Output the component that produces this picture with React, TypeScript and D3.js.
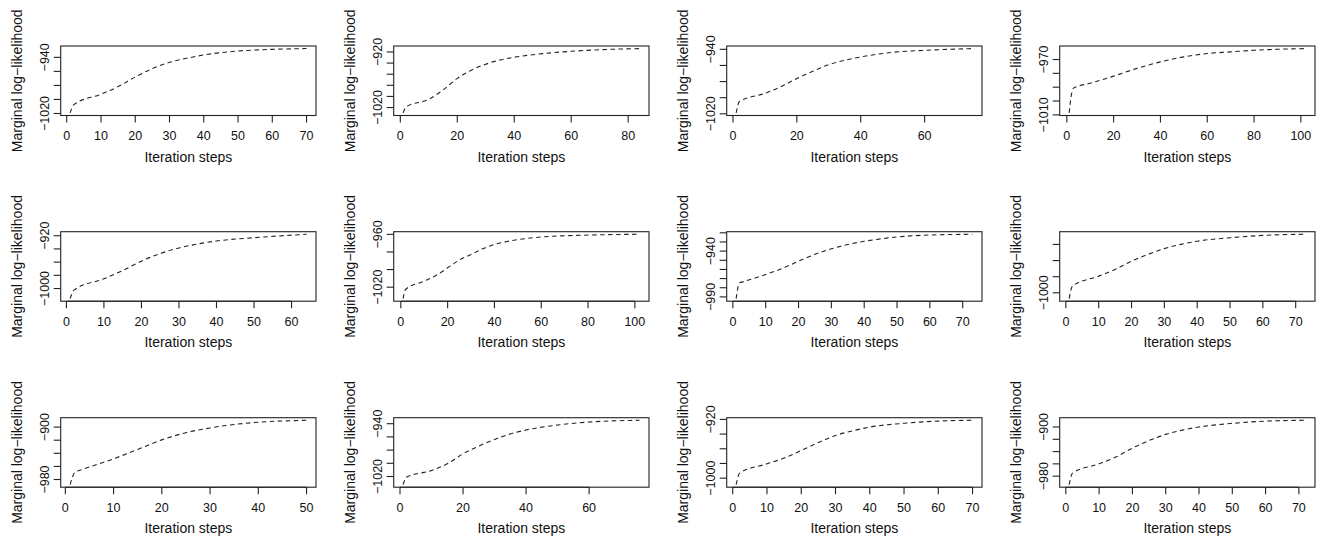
import { useEffect, useRef } from "react";
import * as d3 from "d3";

const iters1 = [1, 2, 10, 15, 20, 25, 30, 35, 40, 50, 60, 70];
const loglik1 = [-1019.2, -1007.7, -992.5, -981.7, -968, -956, -947.1, -941.4, -936.6, -931, -928.6, -927.5];
const iters2 = [1, 2, 10, 15, 20, 25, 30, 35, 40, 50, 60, 70, 84];
const loglik2 = [-1029.7, -1019, -1005.1, -988.5, -967.6, -952.7, -942, -934.5, -929.5, -923, -918.8, -916, -913.9];
const iters3 = [1, 2, 10, 15, 20, 25, 30, 35, 40, 50, 60, 75];
const loglik3 = [-1018.9, -1004.8, -994.6, -986.4, -976.2, -967.2, -959, -953.6, -949.5, -943.8, -941.3, -939.1];
const iters4 = [1, 2, 3, 10, 20, 30, 40, 50, 60, 70, 80, 90, 102];
const loglik4 = [-1008.6, -995, -990.5, -987.2, -982, -976.4, -971.7, -968.1, -965.7, -964.5, -963.3, -962.6, -962.1];
const iters5 = [1, 2, 10, 15, 20, 25, 30, 35, 40, 50, 64];
const loglik5 = [-1015.3, -1002.5, -985.3, -972.7, -958.5, -947, -938.5, -932.5, -928, -923, -917.8];
const iters6 = [1, 2, 10, 15, 20, 25, 30, 35, 40, 45, 50, 60, 80, 102];
const loglik6 = [-1033, -1022.6, -1013.1, -1006.7, -998, -989.2, -982.8, -976.3, -971.4, -968.3, -966, -963, -960.8, -959.9];
const iters7 = [1, 2, 3, 10, 15, 20, 25, 30, 35, 40, 50, 60, 73];
const loglik7 = [-991.9, -974.7, -973.6, -965.5, -959, -951, -943.5, -937.5, -932.8, -929.3, -924.6, -922.4, -921.6];
const iters8 = [1, 2, 10, 15, 20, 25, 30, 35, 40, 50, 60, 73];
const loglik8 = [-1007.2, -991.7, -979.3, -971, -960.7, -952.4, -945.2, -939.9, -936, -931.7, -928.8, -927.4];
const iters9 = [1, 2, 3, 10, 15, 20, 25, 30, 35, 40, 50];
const loglik9 = [-987.8, -968.8, -966, -948.4, -934.1, -919.5, -908.5, -901.3, -896, -892.6, -889.6];
const iters10 = [1, 2, 10, 15, 20, 25, 30, 35, 40, 50, 60, 76];
const loglik10 = [-1032.3, -1021, -1010.9, -1000.8, -985.6, -973.9, -963.8, -955.5, -949.5, -942, -937.5, -934.8];
const iters11 = [1, 2, 10, 15, 20, 25, 30, 35, 40, 50, 60, 70];
const loglik11 = [-1008.8, -993.2, -980.5, -972.7, -962.3, -951.5, -942, -935.5, -930.5, -925.3, -922.3, -921.2];
const iters12 = [1, 2, 10, 15, 20, 25, 30, 35, 40, 50, 60, 72];
const loglik12 = [-993.8, -975.1, -959.9, -949, -934.3, -922, -912, -905, -900, -894, -890.4, -889];

// axis ticks
const xTicks50 = [0, 10, 20, 30, 40, 50];
const xTicks60by10 = [0, 10, 20, 30, 40, 50, 60];
const xTicks70 = [0, 10, 20, 30, 40, 50, 60, 70];
const xTicks60by20 = [0, 20, 40, 60];
const xTicks80 = [0, 20, 40, 60, 80];
const xTicks100 = [0, 20, 40, 60, 80, 100];

const yTicks1 = [-1020, -1000, -980, -960, -940];
const yLabels1 = [-1020, -940];
const yTicks2 = [-1020, -1000, -980, -960, -940, -920];
const yLabels2 = [-1020, -920];
const yTicks3 = [-1020, -1000, -980, -960, -940];
const yLabels3 = [-1020, -940];
const yTicks4 = [-1010, -1000, -990, -980, -970];
const yLabels4 = [-1010, -970];
const yTicks5 = [-1000, -980, -960, -940, -920];
const yLabels5 = [-1000, -920];
const yTicks6 = [-1020, -1000, -980, -960];
const yLabels6 = [-1020, -960];
const yTicks7 = [-990, -980, -970, -960, -950, -940, -930, -920];
const yLabels7 = [-990, -940];
const yTicks8 = [-1000, -980, -960, -940];
const yLabels8 = [-1000];
const yTicks9 = [-980, -960, -940, -920, -900];
const yLabels9 = [-980, -900];
const yTicks10 = [-1020, -1000, -980, -960, -940];
const yLabels10 = [-1020, -940];
const yTicks11 = [-1000, -980, -960, -940, -920];
const yLabels11 = [-1000, -920];
const yTicks12 = [-980, -960, -940, -920, -900];
const yLabels12 = [-980, -900];

const panels = [
  { iters: iters1, loglik: loglik1, xTicks: xTicks70, yTicks: yTicks1, yLabels: yLabels1 },
  { iters: iters2, loglik: loglik2, xTicks: xTicks80, yTicks: yTicks2, yLabels: yLabels2 },
  { iters: iters3, loglik: loglik3, xTicks: xTicks60by20, yTicks: yTicks3, yLabels: yLabels3 },
  { iters: iters4, loglik: loglik4, xTicks: xTicks100, yTicks: yTicks4, yLabels: yLabels4 },
  { iters: iters5, loglik: loglik5, xTicks: xTicks60by10, yTicks: yTicks5, yLabels: yLabels5 },
  { iters: iters6, loglik: loglik6, xTicks: xTicks100, yTicks: yTicks6, yLabels: yLabels6 },
  { iters: iters7, loglik: loglik7, xTicks: xTicks70, yTicks: yTicks7, yLabels: yLabels7 },
  { iters: iters8, loglik: loglik8, xTicks: xTicks70, yTicks: yTicks8, yLabels: yLabels8 },
  { iters: iters9, loglik: loglik9, xTicks: xTicks50, yTicks: yTicks9, yLabels: yLabels9 },
  { iters: iters10, loglik: loglik10, xTicks: xTicks60by20, yTicks: yTicks10, yLabels: yLabels10 },
  { iters: iters11, loglik: loglik11, xTicks: xTicks70, yTicks: yTicks11, yLabels: yLabels11 },
  { iters: iters12, loglik: loglik12, xTicks: xTicks70, yTicks: yTicks12, yLabels: yLabels12 },
];

const fmt = (v: number) => (v < 0 ? "\u2212" + Math.abs(v) : String(v));

export default function App() {
  const ref = useRef<HTMLDivElement>(null);

  useEffect(() => {
    const width = 1332;
    const height = 544;
    const colW = 333;
    const rowTops = [46, 231.7, 417.7];
    const boxLeft = 60.7;
    const boxW = 255.3;
    const boxH = 69.5;
    const font = "'Liberation Sans', Arial, Helvetica, sans-serif";

    const svg = d3
      .select(ref.current)
      .append("svg")
      .attr("width", width)
      .attr("height", height)
      .style("display", "block")
      .style("background", "#fff");

    panels.forEach((p, i) => {
      const r = Math.floor(i / 4);
      const c = i % 4;
      const L = boxLeft + c * colW;
      const T = rowTops[r];
      const R = L + boxW;
      const B = T + boxH;

      // R-style 4% axis expansion
      const [x0, x1] = d3.extent(p.iters) as [number, number];
      const [y0, y1] = d3.extent(p.loglik) as [number, number];
      const dx = (x1 - x0) * 0.04;
      const dy = (y1 - y0) * 0.04;
      const x = d3.scaleLinear().domain([x0 - dx, x1 + dx]).range([L, R]);
      const y = d3.scaleLinear().domain([y0 - dy, y1 + dy]).range([B, T]);

      const g = svg.append("g");

      const line = d3
        .line<number>()
        .x((_, k) => x(p.iters[k]))
        .y((d) => y(d))
        .curve(d3.curveMonotoneX);

      g.append("path")
        .attr("d", line(p.loglik))
        .attr("fill", "none")
        .attr("stroke", "#222")
        .attr("stroke-width", 1.1)
        .attr("stroke-dasharray", "4.5,3.5");

      g.append("rect")
        .attr("x", L)
        .attr("y", T)
        .attr("width", boxW)
        .attr("height", boxH)
        .attr("fill", "none")
        .attr("stroke", "#222")
        .attr("stroke-width", 1.1);

      // x axis
      p.xTicks.forEach((t) => {
        g.append("line")
          .attr("x1", x(t))
          .attr("x2", x(t))
          .attr("y1", B)
          .attr("y2", B + 7)
          .attr("stroke", "#222")
          .attr("stroke-width", 1.1);
        g.append("text")
          .attr("x", x(t))
          .attr("y", B + 24.3)
          .attr("text-anchor", "middle")
          .attr("font-family", font)
          .attr("font-size", 12.5)
          .attr("fill", "#111")
          .text(fmt(t));
      });
      g.append("line")
        .attr("x1", x(p.xTicks[0]))
        .attr("x2", x(p.xTicks[p.xTicks.length - 1]))
        .attr("y1", B)
        .attr("y2", B)
        .attr("stroke", "#222")
        .attr("stroke-width", 1.1);

      // y axis
      p.yTicks.forEach((t) => {
        g.append("line")
          .attr("x1", L - 7)
          .attr("x2", L)
          .attr("y1", y(t))
          .attr("y2", y(t))
          .attr("stroke", "#222")
          .attr("stroke-width", 1.1);
      });
      p.yLabels.forEach((t) => {
        g.append("text")
          .attr("transform", `translate(${L - 11.4},${y(t)}) rotate(-90)`)
          .attr("text-anchor", "middle")
          .attr("font-family", font)
          .attr("font-size", 12.5)
          .attr("fill", "#111")
          .text(fmt(t));
      });

      // titles
      g.append("text")
        .attr("x", (L + R) / 2)
        .attr("y", B + 46)
        .attr("text-anchor", "middle")
        .attr("font-family", font)
        .attr("font-size", 14)
        .attr("fill", "#111")
        .text("Iteration steps");
      g.append("text")
        .attr("transform", `translate(${L - 39},${(T + B) / 2}) rotate(-90)`)
        .attr("text-anchor", "middle")
        .attr("font-family", font)
        .attr("font-size", 14)
        .attr("fill", "#111")
        .text("Marginal log\u2212likelihood");
    });

    return () => {
      d3.select(ref.current).selectAll("*").remove();
    };
  }, []);

  return <div ref={ref} style={{ position: "absolute", left: 0, top: 0 }} />;
}
